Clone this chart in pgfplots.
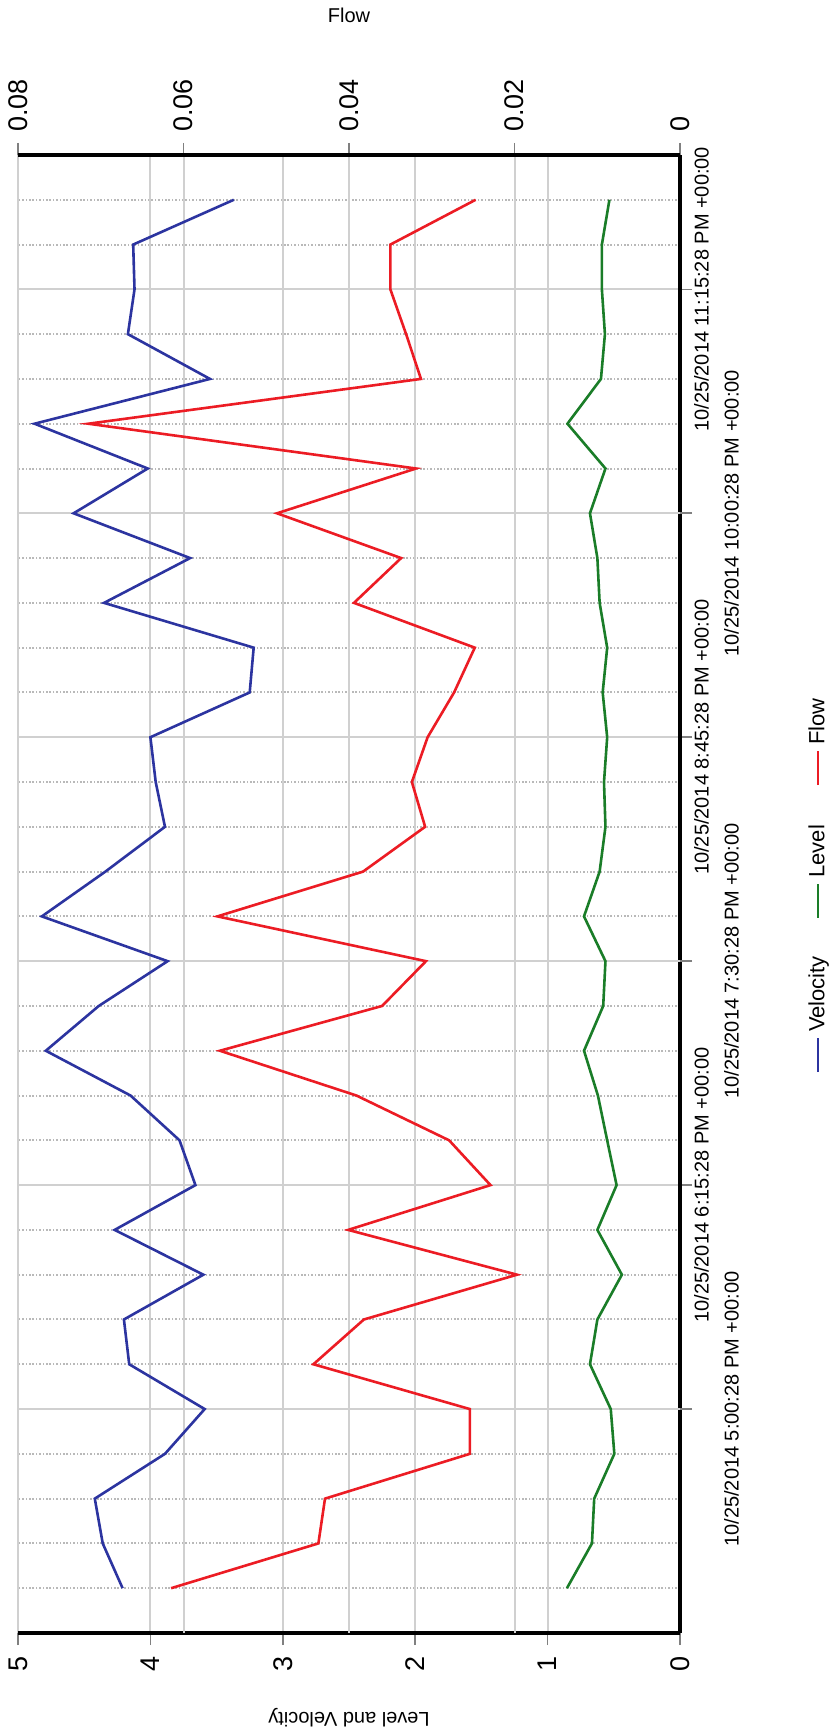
\documentclass[border=0pt]{standalone}
\usepackage{fontspec}
\setmainfont{Liberation Sans}
\usepackage{graphicx}
\usepackage{pgfplots}
\usepackage{pgfplotstable}
\pgfplotsset{compat=1.18}

\definecolor{velblue}{RGB}{44,52,160}
\definecolor{lvlgreen}{RGB}{26,125,40}
\definecolor{flowred}{RGB}{236,28,36}
\definecolor{gridgray}{RGB}{208,208,208}
\definecolor{dotgray}{RGB}{185,185,185}

% 15-minute readings, index 0 = 10/25/2014 4:00:28 PM
\pgfplotstableread{
i  vel   lvl    flow
0  4.21  0.854  0.0615
1  4.36  0.665  0.0437
2  4.42  0.648  0.0429
3  3.89  0.496  0.0254
4  3.59  0.523  0.0254
5  4.16  0.680  0.0443
6  4.20  0.624  0.0382
7  3.60  0.439  0.0197
8  4.27  0.624  0.0401
9  3.66  0.479  0.0229
10 3.78  0.550  0.0279
11 4.15  0.620  0.0391
12 4.79  0.725  0.0556
13 4.39  0.580  0.0360
14 3.87  0.563  0.0307
15 4.82  0.725  0.0559
16 4.34  0.607  0.0383
17 3.89  0.563  0.0308
18 3.96  0.574  0.0324
19 4.00  0.550  0.0305
20 3.25  0.584  0.0273
21 3.22  0.550  0.0248
22 4.35  0.607  0.0394
23 3.70  0.624  0.0337
24 4.58  0.680  0.0487
25 4.02  0.563  0.0319
26 4.875 0.850  0.0715
27 3.55  0.597  0.0313
28 4.17  0.567  0.0331
29 4.12  0.590  0.0350
30 4.13  0.590  0.0350
31 3.37  0.533  0.0247
}\datatable

\pgfplotsset{
  chartbase/.style={
    scale only axis, width=739pt, height=331pt,
    xmin=-1, xmax=32,
    axis line style={-, black, line width=2pt},
    tick align=outside,
    major tick length=6pt, minor tick length=0pt,
    major tick style={gray, line width=0.8pt},
  },
}

\begin{document}
\rotatebox{90}{%
\begin{tikzpicture}
\path[use as bounding box] (-51pt,-75.5pt) rectangle (816.5pt,340pt);
\begin{axis}[
  chartbase,
  ymin=0, ymax=5,
  axis x line*=bottom, axis y line*=left,
  xtick={9,19,29},
  xticklabels={10/25/2014 6:15:28 PM +00:00,10/25/2014 8:45:28 PM +00:00,10/25/2014 11:15:28 PM +00:00},
  extra x ticks={4,14,24},
  extra x tick labels={10/25/2014 5:00:28 PM +00:00,10/25/2014 7:30:28 PM +00:00,10/25/2014 10:00:28 PM +00:00},
  extra x tick style={grid=major, xticklabel style={yshift=-15pt}},
  minor xtick={0,1,2,3,5,6,7,8,10,11,12,13,15,16,17,18,20,21,22,23,25,26,27,28,30,31},
  ytick={0,1,2,3,4,5}, yticklabels={0,1,2,3,4,5},
  extra y ticks={1.25,2.5,3.75}, extra y tick labels={},
  extra y tick style={grid=major, major tick length=0pt},
  xmajorgrids, xminorgrids, ymajorgrids,
  major grid style={gridgray, line width=1pt},
  minor grid style={dotgray, line width=1pt, dash pattern=on 0.8pt off 0.9pt},
  xticklabel style={font=\fontsize{10}{12}\selectfont, yshift=2.5pt},
  yticklabel style={font=\fontsize{13.5}{16}\selectfont, inner ysep=0pt, xshift=-2pt},
  ylabel={Level and Velocity},
  every axis y label/.style={at={(axis description cs:-0.0575,0.5)}, rotate=90, anchor=center, font=\fontsize{10}{12}\selectfont},
]
\addplot[velblue, line width=1.3pt] table[x=i, y=vel] {\datatable};
\addplot[lvlgreen, line width=1.3pt] table[x=i, y=lvl] {\datatable};
\end{axis}
\begin{axis}[
  chartbase,
  ymin=0, ymax=0.08,
  axis x line=none, axis y line*=right,
  xtick=\empty,
  ytick={0,0.02,0.04,0.06,0.08}, yticklabels={0,0.02,0.04,0.06,0.08},
  yticklabel style={font=\fontsize{13.5}{16}\selectfont, inner ysep=0pt, xshift=2pt},
  ylabel={Flow},
  every axis y label/.style={at={(axis description cs:1.0947,0.5)}, rotate=-90, anchor=center, font=\fontsize{10}{12}\selectfont},
  legend columns=3,
  legend style={at={(axis description cs:0.5054,-0.2085)}, anchor=center, draw=none, fill=none,
    font=\fontsize{11}{13}\selectfont, column sep=0pt,
    nodes={inner sep=0pt}},
  legend image code/.code={\draw[#1] (0pt,0pt) -- (17pt,0pt);},
]
\addlegendimage{velblue, line width=1.3pt}
\addlegendentry{\hspace*{2.5pt}Velocity\hspace*{18.5pt}}
\addlegendimage{lvlgreen, line width=1.3pt}
\addlegendentry{\hspace*{2.5pt}Level\hspace*{19.2pt}}
\addplot[flowred, line width=1.3pt] table[x=i, y=flow] {\datatable};
\addlegendentry{\hspace*{2.5pt}Flow}
\end{axis}
\end{tikzpicture}%
}
\end{document}
